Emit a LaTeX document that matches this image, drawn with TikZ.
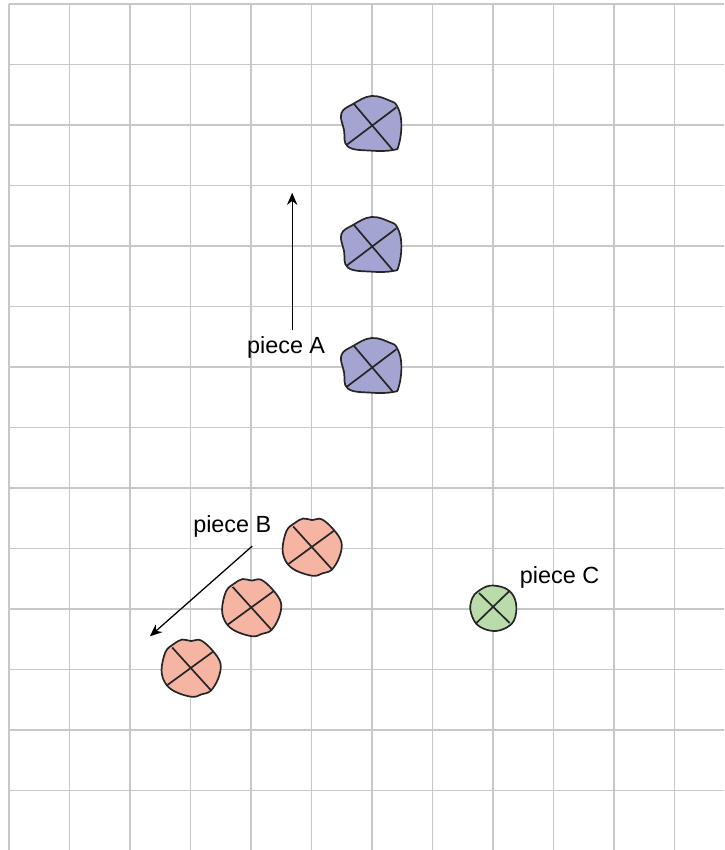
\documentclass[tikz,border=0pt]{standalone}
\usepackage{fontspec}
\setmainfont{Liberation Sans}
\usetikzlibrary{arrows.meta}
\definecolor{blobblue}{RGB}{164,164,210}
\definecolor{blobpink}{RGB}{246,181,163}
\definecolor{blobgreen}{RGB}{186,220,170}
\definecolor{gridgray}{RGB}{200,200,200}

\begin{document}
\begin{tikzpicture}[
  font=\fontsize{11}{13}\selectfont, >={Stealth[length=2mm, width=1.7mm]},
  gridline/.style={draw=gridgray, line width=0.65pt},
  blob/.style={draw=black!85, line width=0.8pt},
  mover/.style={->, line width=0.6pt},
  pieceA/.pic={
    \draw[blob, fill=blobblue] plot[smooth cycle, tension=0.7] coordinates {
      (-0.507,0.193) (-0.314,0.347) (-0.011,0.479) (0.292,0.402) (0.419,0.303)
      (0.485,0.028) (0.441,-0.331) (0.347,-0.413) (-0.011,-0.424) (-0.397,-0.358) (-0.463,-0.083)};
    \draw[blob] (-0.298,0.347) -- (0.347,-0.413) (0.402,0.292) -- (-0.424,-0.331);},
  pieceB/.pic={
    \draw[blob, fill=blobpink] plot[smooth cycle, tension=0.6] coordinates {
      (-0.138,0.496) (0.010,0.470) (0.165,0.485) (0.358,0.320) (0.496,0.099) (0.457,-0.149)
      (0.331,-0.353) (0.180,-0.410) (0.028,-0.452) (-0.248,-0.369) (-0.413,-0.231)
      (-0.479,-0.011) (-0.413,0.292) (-0.280,0.420)};
    \draw[blob] (-0.303,0.364) -- (0.347,-0.353) (0.369,0.292) -- (-0.386,-0.259);},
  pieceC/.pic={
    \draw[blob, fill=blobgreen] plot[smooth cycle, tension=0.6] coordinates {
      (-0.248,0.292) (-0.055,0.386) (0.193,0.347) (0.342,0.209) (0.386,-0.011) (0.320,-0.231)
      (0.110,-0.353) (-0.110,-0.342) (-0.287,-0.231) (-0.375,-0.011) (-0.342,0.182)};
    \draw[blob] (-0.231,0.264) -- (0.275,-0.231) (0.264,0.292) -- (-0.275,-0.231);},
]
  \useasboundingbox (-0.149,-13.983) rectangle (11.818,0.066);
  % grid
  \foreach \x in {0,...,11} \draw[gridline] (\x,0) -- (\x,-13.983);
  \foreach \y in {0,...,13} \draw[gridline] (0,-\y) -- (11.818,-\y);

  % pieces
  \pic (a1) at (6,-2) {pieceA};
  \pic (a2) at (6,-4) {pieceA};
  \pic (a3) at (6,-6) {pieceA};
  \pic (b1) at (5,-9) {pieceB};
  \pic (b2) at (4,-10) {pieceB};
  \pic (b3) at (3,-11) {pieceB};
  \pic (c1) at (8,-10) {pieceC};

  % labels and moves
  \node (labA) at (4.58,-5.67) {piece A};
  \node (labB) at (3.69,-8.63) {piece B};
  \node (labC) at (9.10,-9.47) {piece C};
  \coordinate (a0) at (4.68,-5.39);
  \coordinate (aE) at (4.68,-3.12);
  \coordinate (b0) at (4.02,-8.96);
  \coordinate (bE) at (2.33,-10.45);
  \draw[mover] (a0) -- (aE);
  \draw[mover] (b0) -- (bE);
\end{tikzpicture}
\end{document}
